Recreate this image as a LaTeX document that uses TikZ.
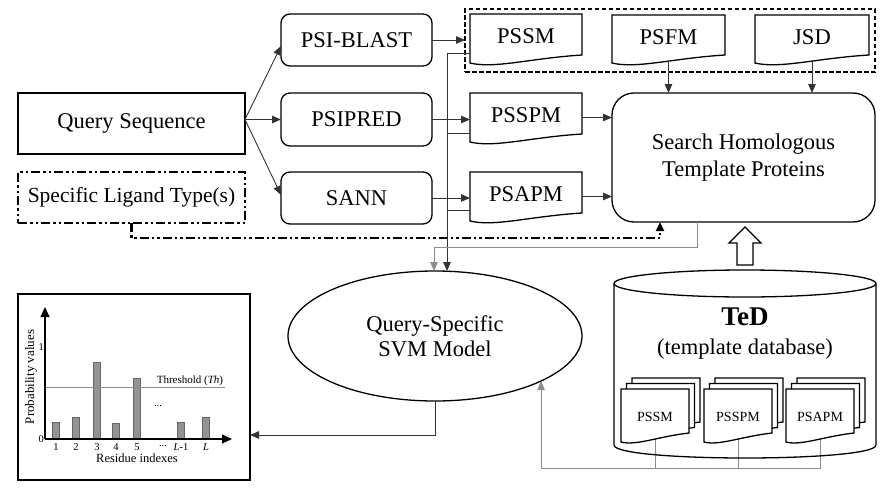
\documentclass[tikz,border=0pt]{standalone}
\usepackage{fontspec}
\setmainfont{Liberation Serif}
\usetikzlibrary{arrows.meta,calc,shapes.geometric,backgrounds}
\newcommand\fsz[2]{\fontsize{#1pt}{#2pt}\selectfont}
\newcommand\docoutline[3]{%
  \draw[docline] (#1.north west) -- (#1.north east) -- ($(#1.south east)+(0,-#2)$)
   .. controls ($(#1.south west)!0.54!(#1.south east)+(0,-0.6*#2)$) and ($(#1.south west)!0.22!(#1.south east)+(0,#3)$) .. (#1.south west) -- cycle;}
\newcommand\docnode[9]{%
  \node[docbase, minimum width=#3pt, minimum height=#4pt] (#1) at (#2) {};
  \docoutline{#1}{#5}{#6}
  \node[inner sep=0pt, font=\fsz{#7}{#7}] (#1-t) at ($(#1)+(0,#8)$) {#9};}
\newcommand\stackdoc[4]{%
  \node[docbase, minimum width=68pt, minimum height=53pt] (#1-b2) at (#2+11,#3-11) {};
  \docoutline{#1-b2}{9}{4}
  \node[docbase, minimum width=68pt, minimum height=53pt] (#1-b1) at (#2+5.5,#3-5.5) {};
  \docoutline{#1-b1}{9}{4}
  \docnode{#1}{#2,#3}{68}{53}{9}{4}{14}{1.5}{#4}}
\tikzset{
  ln/.style={line width=0.9pt, draw=black!80},
  gln/.style={line width=0.9pt, draw=black!45},
  tip/.style={-{Triangle[length=9pt,width=7.5pt]}},
  rbox/.style={draw, line width=1.3pt, rounded corners=9pt, minimum width=151pt,
    minimum height=52pt, inner sep=0pt, outer sep=0pt, font=\fsz{22.5}{27}},
  qbox/.style={draw, line width=1.3pt, minimum width=227pt, inner sep=0pt,
    outer sep=0pt, font=\fsz{22.5}{27}},
  docbase/.style={inner sep=0pt, outer sep=0pt, draw=none},
  docline/.style={draw, line width=1.3pt, fill=white},
  dashdot/.style={line width=2.3pt, dash pattern=on 9pt off 3pt on 2.5pt off 3pt on 2.5pt off 3pt},
  ticklab/.style={font=\fsz{10.5}{12}, inner sep=0pt},
}
\begin{document}
\begin{tikzpicture}[x=1pt,y=-1pt]
\useasboundingbox (0,0) rectangle (887,490);

% left column
\node[qbox, minimum height=61pt] (query) at (131.5,123.5) {Query Sequence};
\node[qbox, dashdot, minimum height=51pt, font=\fsz{21.5}{26}] (ligand) at (131.5,197.5) {Specific Ligand Type(s)};

% tools
\node[rbox, minimum height=52pt] (psiblast) at (356.5,40) {PSI-BLAST};
\node[rbox, minimum height=53pt] (psipred) at (356.5,119.5) {PSIPRED};
\node[rbox, minimum height=52pt] (sann) at (356.5,198) {SANN};

% feature group
\node[draw, line width=2.5pt, dash pattern=on 4.5pt off 2.5pt, minimum width=410pt,
  minimum height=63pt, inner sep=0pt, outer sep=0pt] (feat) at (670,40.5) {};
\docnode{pssm}{526,38.5}{112}{49}{8}{6}{22.5}{-2}{PSSM}
\docnode{psfm}{668.5,39}{113}{48}{8}{6}{22.5}{-2}{PSFM}
\docnode{jsd}{812,39}{114}{48}{8}{6}{22.5}{-2}{JSD}
\docnode{psspm}{526,117.5}{112}{49}{8}{6}{22.5}{-2}{PSSPM}
\docnode{psapm}{526,196.5}{112}{49}{8}{6}{22.5}{-2}{PSAPM}

% search box
\node[draw, line width=1.3pt, rounded corners=22pt, minimum width=263pt, minimum height=129pt,
  align=center, font=\fsz{22.5}{27}, inner sep=0pt, outer sep=0pt] (search) at (743.5,157.5)
  {Search Homologous\\Template Proteins};

% SVM ellipse
\node[ellipse, draw, line width=1.3pt, minimum width=294pt, minimum height=130pt, inner sep=0pt,
  outer sep=0pt, align=center, font=\fsz{22.5}{25}] (svm) at (435,336) {Query-Specific\\SVM Model};

% TeD cylinder
\node[docbase, minimum width=262pt, minimum height=188pt] (ted) at (745,364) {};
\draw[line width=1.3pt] ($(ted.north west)+(0,13.5)$) -- ($(ted.south west)+(0,-13)$)
  .. controls ($(ted.south west)+(0,4.33)$) and ($(ted.south east)+(0,4.33)$) .. ($(ted.south east)+(0,-13)$)
  -- ($(ted.north east)+(0,13.5)$);
\draw[line width=1.3pt] ($(ted.north)+(0,13.5)$) ellipse [x radius=131, y radius=13.5];
\node[font=\bfseries\fsz{27}{27}, inner sep=0pt] (tedname) at (745,317) {TeD};
\node[font=\fsz{22.5}{27}, inner sep=0pt] (tedsub) at (745,349) {(template database)};
\stackdoc{tpssm}{655}{415.5}{PSSM}
\stackdoc{tpsspm}{738}{415.5}{PSSPM}
\stackdoc{tpsapm}{820}{415.5}{PSAPM}

% hollow arrow
\draw[line width=1.3pt] ($(ted.north)+(-8,-5)$) -- ($(ted.north)+(-8,-27)$) -- ($(ted.north)+(-16,-27)$)
  -- ($(ted.north)+(0,-43)$) -- ($(ted.north)+(16,-27)$) -- ($(ted.north)+(8,-27)$)
  -- ($(ted.north)+(8,-5)$) -- cycle;

% chart
\node[draw, line width=1.3pt, minimum width=232pt, minimum height=186pt, inner sep=0pt, outer sep=0pt]
  (chart) at (134,387) {};
\foreach \x/\h in {56/422, 76/417, 97/362, 116/423, 137/378, 181/422, 206/417}
  \draw[fill=gray!85, draw=black!60, line width=0.5pt] (\x-3.5,439) rectangle (\x+3.5,\h);
\draw[black!45, line width=0.6pt] (45,387) -- (225,387);
\draw[line width=1.2pt, -{Triangle[length=10pt,width=9pt]}] (45,439) -- (45,307);
\draw[line width=1.2pt, -{Triangle[length=10pt,width=9pt]}] (45,439) -- (232,439);
\node[ticklab] (xl1) at (56,447) {1};
\node[ticklab] (xl2) at (76,447) {2};
\node[ticklab] (xl3) at (97,447) {3};
\node[ticklab] (xl4) at (116,447) {4};
\node[ticklab] (xl5) at (137,447) {5};
\node[ticklab] (xl6) at (163,446) {...};
\node[ticklab] (xl7) at (181,447) {\textit{L}-1};
\node[ticklab] (xl8) at (206,447) {\textit{L}};
\node[ticklab, anchor=east] (yl1) at (44,347) {1};
\node[ticklab, anchor=east] (yl0) at (44,439) {0};
\node[ticklab] (dots) at (158,406) {...};
\node[font=\fsz{11}{12}, inner sep=0pt] (thr) at (190,381) {Threshold (\textit{Th})};
\node[font=\fsz{13}{14}, inner sep=0pt, rotate=90] (ylab) at (31,377) {Probability values};
\node[font=\fsz{12.5}{14}, inner sep=0pt] (xlab) at (137,458) {Residue indexes};

% connectors
\coordinate (qo) at ($(query.east)+(0,-4)$);
\draw[ln,tip] (qo) -- ($(psiblast.west)+(0,6)$);
\draw[ln,tip] (qo) -- (psipred.west);
\draw[ln,tip] (qo) -- ($(sann.west)+(0,-3)$);
\draw[ln,tip] (psiblast.east) -- (psiblast.east -| feat.west);
\draw[ln,tip] (psipred.east) -- (psipred.east -| psspm.west);
\draw[ln,tip] (sann.east) -- (sann.east -| psapm.west);
\draw[ln,tip] (psspm.east) -- (psspm.east -| search.west);
\draw[ln,tip] (psapm.east) -- (psapm.east -| search.west);
\draw[ln,tip] ($(psfm.south)+(0,-2)$) -- (psfm.south |- search.north);
\draw[ln,tip] ($(jsd.south)+(0,-2)$) -- (jsd.south |- search.north);
\draw[dashdot, -{Triangle[length=9pt,width=8pt]}] (ligand.south) -- ++(0,15) -| ($(search.south west)+(48,0)$);
\draw[ln,tip] ($(pssm.north west)+(0,39)$) -| ($(svm.north)+(12,0)$);
\draw[ln] ($(psspm.north west)+(0,40)$) -- ++(-23,0);
\draw[ln] ($(psapm.north west)+(0,38)$) -- ++(-23,0);
\draw[gln,tip] ($(search.south west)+(85,0)$) -- ++(0,25) -| ($(svm.north)+(-1,0)$);
\draw[ln,tip] (svm.south) |- ($(chart.south east)+(0,-45)$);
\coordinate (bus) at (539,468);
\begin{scope}[on background layer]
\draw[gln] (tpssm.center) -- (tpssm.center |- bus);
\draw[gln] (tpsspm.center) -- (tpsspm.center |- bus);
\draw[gln,tip] (tpsapm.center) -- (tpsapm.center |- bus) -| (svm.-23.9);
\end{scope}
\end{tikzpicture}
\end{document}
